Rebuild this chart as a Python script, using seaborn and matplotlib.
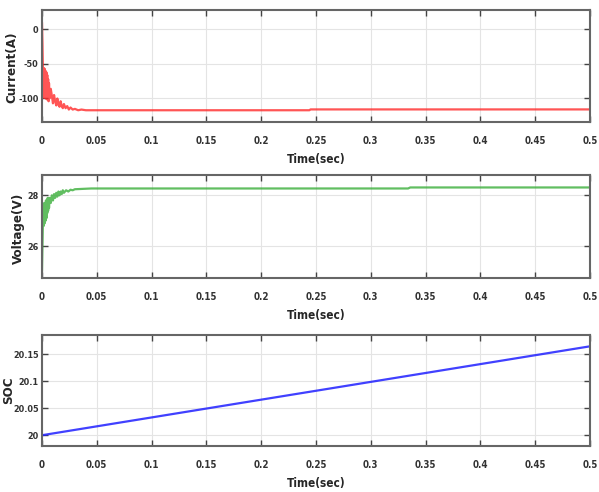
import matplotlib
matplotlib.use("Agg")
import matplotlib.pyplot as plt
import seaborn as sns
import pandas as pd

# ---------------- data ----------------
t_current = [0.0, 0.0004, 0.0008, 0.0012, 0.0016, 0.0020, 0.0024, 0.0028, 0.0032, 0.0036,
             0.0040, 0.0044, 0.0048, 0.0052, 0.0056, 0.0060, 0.0064, 0.0068, 0.0072,
             0.0080, 0.0090, 0.0100, 0.0110, 0.0120, 0.0130, 0.0140, 0.0150, 0.0160,
             0.0170, 0.0180, 0.0190, 0.0200, 0.0215, 0.0230, 0.0245, 0.0260, 0.0280,
             0.0300, 0.0330, 0.0360, 0.0400, 0.0500, 0.1000, 0.2000, 0.2440, 0.2450,
             0.3000, 0.4000, 0.5000]
current = [10, -20, -58, -98, -56, -99, -57, -97, -60, -100,
           -62, -101, -66, -102, -72, -104, -78, -100, -88,
           -86, -96, -107, -95, -104, -110, -100, -109, -112,
           -104, -111, -114, -108, -114, -111, -116, -113, -116,
           -115, -117, -116, -117, -117, -117, -117, -117, -115.8,
           -115.8, -115.8, -115.8]

t_voltage = [0.0, 0.0004, 0.0008, 0.0012, 0.0016, 0.0020, 0.0024, 0.0028, 0.0032, 0.0036,
             0.0040, 0.0044, 0.0048, 0.0052, 0.0056, 0.0060, 0.0064, 0.0068, 0.0072,
             0.0080, 0.0090, 0.0100, 0.0110, 0.0120, 0.0130, 0.0140, 0.0150, 0.0160,
             0.0170, 0.0180, 0.0190, 0.0200, 0.0220, 0.0240, 0.0260, 0.0280, 0.0300,
             0.0350, 0.0400, 0.0450, 0.1000, 0.2000, 0.3000, 0.3340, 0.3360, 0.4000, 0.5000]
voltage = [25.0, 26.0, 26.9, 27.6, 26.8, 27.7, 26.9, 27.7, 27.0, 27.8,
           27.1, 27.8, 27.3, 27.9, 27.4, 27.9, 27.5, 27.8, 27.9,
           27.7, 28.0, 27.8, 28.05, 27.9, 28.1, 27.95, 28.15, 28.0,
           28.15, 28.05, 28.2, 28.1, 28.2, 28.15, 28.22, 28.2, 28.24,
           28.25, 28.26, 28.27, 28.27, 28.27, 28.27, 28.27, 28.31, 28.31, 28.31]

t_soc = [0.0, 0.5]
soc = [20.0, 20.165]

x_ticks = [0, 0.05, 0.1, 0.15, 0.2, 0.25, 0.3, 0.35, 0.4, 0.45, 0.5]
x_tick_labels = ["0", "0.05", "0.1", "0.15", "0.2", "0.25", "0.3", "0.35", "0.4", "0.45", "0.5"]
cur_ticks = [0, -50, -100]
cur_tick_labels = ["0", "-50", "-100"]
volt_ticks = [26, 28]
volt_tick_labels = ["26", "28"]
soc_ticks = [20, 20.05, 20.1, 20.15]
soc_tick_labels = ["20", "20.05", "20.1", "20.15"]

# ---------------- style ----------------
sns.set_style("white")
plt.rcParams['font.family'] = ['DejaVu Sans Condensed', 'Liberation Sans Narrow', 'DejaVu Sans']
plt.rcParams['font.stretch'] = 'condensed'

fig = plt.figure(figsize=(5.99, 4.92), dpi=100)

W, H = 599.0, 492.0
def box(l, t, r, b):
    return [l / W, 1 - b / H, (r - l) / W, (b - t) / H]

ax1 = fig.add_axes(box(42, 10, 590, 122))
ax2 = fig.add_axes(box(42, 175, 590, 278))
ax3 = fig.add_axes(box(42, 335, 590, 446))

df1 = pd.DataFrame({"t": t_current, "v": current})
df2 = pd.DataFrame({"t": t_voltage, "v": voltage})
df3 = pd.DataFrame({"t": t_soc, "v": soc})

sns.lineplot(data=df1, x="t", y="v", ax=ax1, color="#ff2a2a", lw=1.6, alpha=0.8,
             estimator=None, sort=False)
sns.lineplot(data=df2, x="t", y="v", ax=ax2, color="#3aae3a", lw=1.6, alpha=0.8,
             estimator=None, sort=False)
sns.lineplot(data=df3, x="t", y="v", ax=ax3, color="#2020ff", lw=1.6, alpha=0.85,
             estimator=None, sort=False)

settings = [
    (ax1, (-134, 28), cur_ticks, cur_tick_labels, "Current(A)", (-0.044, 0.49)),
    (ax2, (24.75, 28.8), volt_ticks, volt_tick_labels, "Voltage(V)", (-0.031, 0.485)),
    (ax3, (19.98, 20.186), soc_ticks, soc_tick_labels, "SOC", (-0.049, 0.50)),
]
for ax, ylim, yt, ytl, ylab, lc in settings:
    ax.set_xlim(0, 0.5)
    ax.set_ylim(*ylim)
    ax.set_xticks(x_ticks)
    ax.set_xticklabels(x_tick_labels, fontsize=7, fontweight="bold", color="#333333")
    ax.set_yticks(yt)
    ax.set_yticklabels(ytl, fontsize=6.5, fontweight="bold", color="#333333")
    ax.grid(True, color="#e4e4e4", lw=0.8)
    ax.set_axisbelow(True)
    ax.tick_params(direction="in", length=4, width=1, color="#444444",
                   top=True, right=True, bottom=True, left=True)
    ax.tick_params(axis="x", pad=10)
    ax.tick_params(axis="y", pad=2.5)
    for s in ax.spines.values():
        s.set_color("#666666")
        s.set_linewidth(1.5)
    ax.set_xlabel("Time(sec)", fontsize=8.5, fontweight="bold", labelpad=5)
    ax.set_ylabel(ylab, fontsize=9.5, fontweight="bold")
    ax.yaxis.set_label_coords(*lc)

fig.savefig("out.png", dpi=100)
